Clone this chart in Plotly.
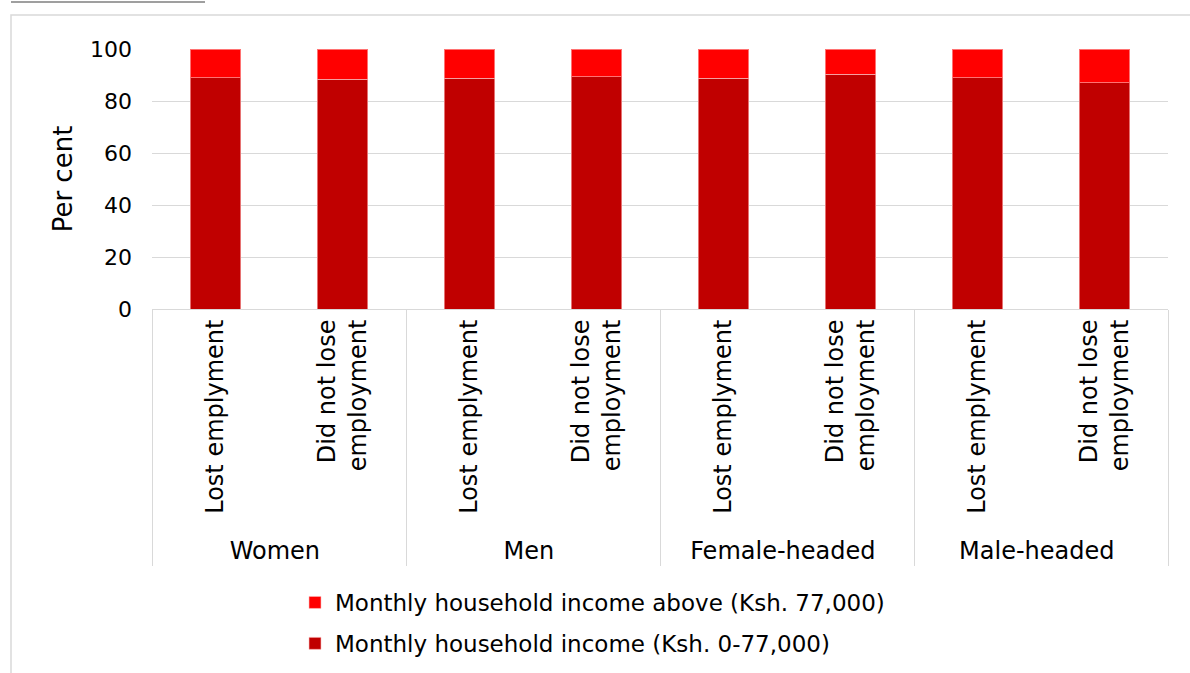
import plotly.graph_objects as go

groups = ["Women", "Women", "Men", "Men", "Female-headed", "Female-headed", "Male-headed", "Male-headed"]
statuses = ["Lost emplyment", "Did not lose<br>employment"] * 4
low_income = [89.0, 88.3, 88.7, 89.4, 88.7, 90.2, 89.0, 87.1]
high_income = [round(100 - v, 1) for v in low_income]
series_names = ["Monthly household income (Ksh. 0-77,000)", "Monthly household income above (Ksh. 77,000)"]
y_ticks = [0, 20, 40, 60, 80, 100]

FONT = "DejaVu Sans"
W, H = 1190, 673
ml, mr, mt, mb = 152, 22, 49, 364

fig = go.Figure()
fig.add_trace(go.Bar(x=[groups, statuses], y=low_income, name=series_names[0], legendgroup="a", legendrank=2,
                     marker=dict(color="#C00000", line=dict(color="rgba(255,190,190,0.6)", width=1))))
fig.add_trace(go.Bar(x=[groups, statuses], y=high_income, name=series_names[1], legendgroup="b", legendrank=1,
                     marker=dict(color="#FF0000", line=dict(color="rgba(255,190,190,0.6)", width=1))))

pw = W - ml - mr
ph = H - mt - mb
def px_x(x):
    return (x - ml) / pw
def px_y(y):
    return (H - mb - y) / ph

fig.update_layout(
    width=W, height=H,
    barmode="stack", bargap=0.6,
    margin=dict(l=ml, r=mr, t=mt, b=mb, autoexpand=False),
    plot_bgcolor="white", paper_bgcolor="white",
    font=dict(family=FONT, color="#000000"),
    legend=dict(orientation="v", x=px_x(295), xanchor="left", y=px_y(581), yanchor="top",
                traceorder="grouped", font=dict(size=23, family=FONT),
                itemwidth=30, tracegroupgap=8),
    xaxis=dict(type="multicategory", tickangle=-90, tickfont=dict(size=24, family=FONT),
               showdividers=True, dividercolor="#D9D9D9", dividerwidth=1,
               showline=True, linecolor="#D9D9D9", ticks=""),
    yaxis=dict(range=[0, 100], tickvals=y_ticks, tickfont=dict(size=22, family=FONT),
               gridcolor="#D9D9D9", gridwidth=1, zeroline=False, ticks="", ticklabelstandoff=19,
               title=dict(text="Per cent", font=dict(size=26, family=FONT), standoff=9)),
    shapes=[
        dict(type="rect", xref="paper", yref="paper", x0=px_x(11), x1=px_x(1195),
             y0=px_y(15), y1=px_y(680), line=dict(color="#D9D9D9", width=1.5), fillcolor="rgba(0,0,0,0)", layer="below"),
        dict(type="line", xref="paper", yref="paper", x0=px_x(11), x1=px_x(205),
             y0=px_y(2), y1=px_y(2), line=dict(color="#7F7F7F", width=1.5)),
    ],
)

fig.write_html("out.html", config={"displayModeBar": False},
               post_script="document.body.style.margin='0';document.body.style.overflow='hidden';")
